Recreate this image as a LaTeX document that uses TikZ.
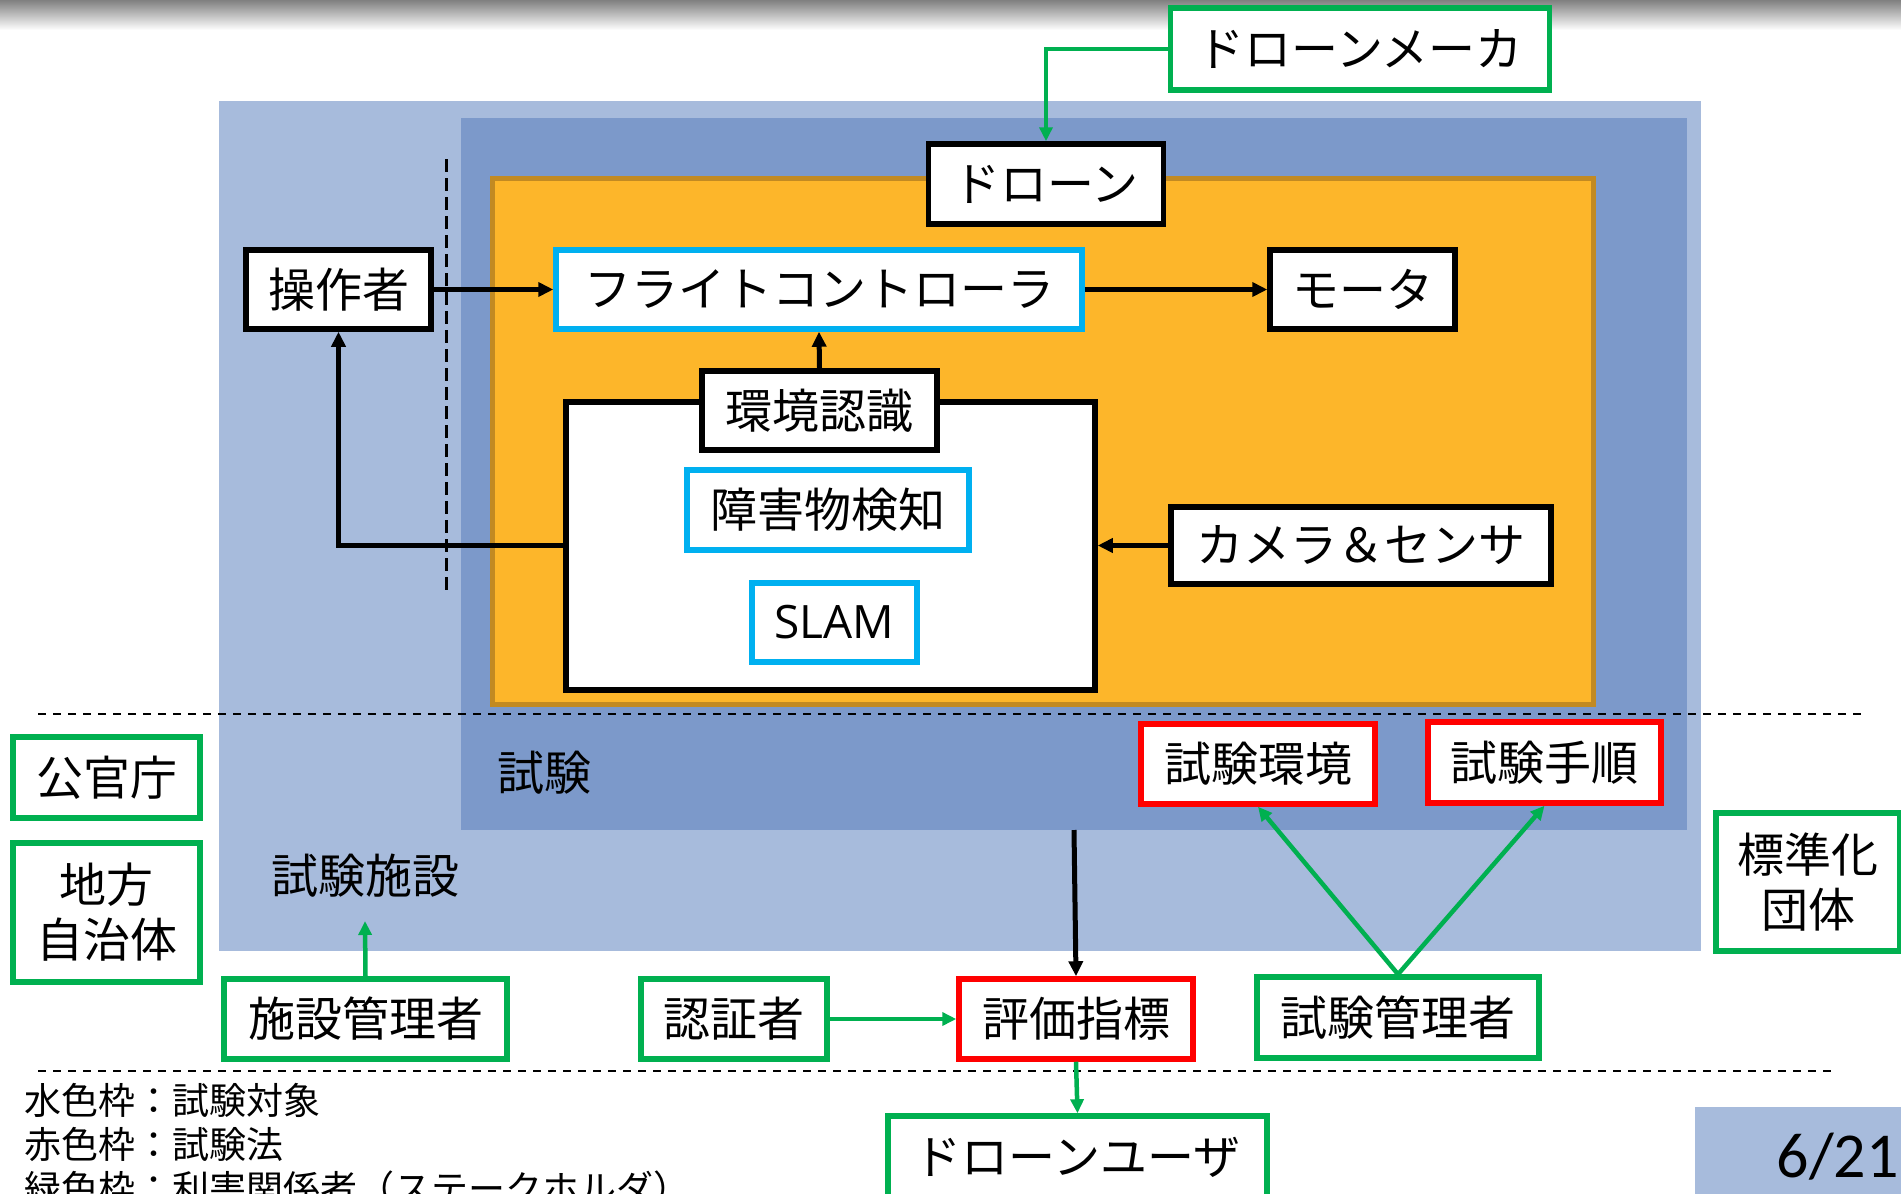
\documentclass[tikz,border=0pt]{standalone}
\usepackage{fontspec}
\setmainfont{Noto Sans CJK JP}
\newfontfamily\latsans{Open Sans}
\newfontfamily\pagefont{Carlito}
\usetikzlibrary{arrows.meta}
\definecolor{facbg}{HTML}{A7BBDC}
\definecolor{testbg}{HTML}{7C99CA}
\definecolor{dronebg}{HTML}{FDB62A}
\definecolor{droneedge}{HTML}{C28A22}
\definecolor{cyanb}{HTML}{00B0F0}
\definecolor{greenb}{HTML}{00B050}
\definecolor{redb}{HTML}{FF0000}
\newcommand\fsz{\fontsize{47}{52}\selectfont}
\newcommand\lsz{\fontsize{37}{44}\selectfont}
\begin{document}
\begin{tikzpicture}[x=1pt,y=-1pt,
  bbox/.style={draw=black, line width=5.5pt, fill=white, inner sep=0pt, font=\fsz, minimum height=80pt},
  cbox/.style={bbox, draw=cyanb},
  gbox/.style={bbox, draw=greenb},
  rbox/.style={bbox, draw=redb},
  region/.style={inner sep=0pt, anchor=north west},
  arr/.style={line width=5pt, -{Triangle[length=15pt,width=14pt]}},
  garr/.style={draw=greenb, line width=4.5pt, -{Triangle[length=14pt,width=13pt]}},
  sep/.style={line width=2pt, dash pattern=on 8pt off 7pt},
  vsep/.style={line width=3pt, dash pattern=on 13pt off 6pt},
  lbl/.style={inner sep=0pt, font=\fsz},
  leg/.style={inner sep=0pt, font=\lsz, anchor=west}
]
\useasboundingbox (0,0) rectangle (1901,1194);
\clip (0,0) rectangle (1901,1194);
\fill[white] (0,0) rectangle (1901,1194);
\shade[top color=black!50, bottom color=white] (0,0) rectangle (1901,30);

% regions
\node[region, fill=facbg, minimum width=1482pt, minimum height=850pt] (facility) at (219,101) {};
\node[region, fill=testbg, minimum width=1226pt, minimum height=712pt] (test) at (461,118) {};
\node[region, fill=dronebg, draw=droneedge, line width=5pt, minimum width=1101pt, minimum height=526pt] (dronearea) at (490,176) {};
\node[region, fill=facbg, minimum width=210pt, minimum height=90pt] (pagebox) at (1695,1107) {};

% separators
\draw[vsep] (446,159) -- (446,594);
\draw[sep] (38,714) -- (1866,714);
\draw[sep] (38,1071) -- (1837,1071);

% labels of regions
\node[lbl] (testlbl) at (544,773) {試験};
\node[lbl] (faclbl) at (365,876) {試験施設};
\node[inner sep=0pt, font=\pagefont\fontsize{64}{70}\selectfont, anchor=base east] (page) at (1899,1177) {6/21};

% drone internals
\node[bbox, minimum width=529pt, minimum height=288pt] (wb) at (830.5,546) {};
\node[bbox, minimum width=235pt] (drone) at (1046,184) {ドローン};
\node[bbox, minimum width=185pt, minimum height=79pt] (op) at (338.5,289.5) {操作者};
\node[cbox, minimum width=526pt, minimum height=79pt] (fc) at (819,289.5) {フライトコントローラ};
\node[bbox, minimum width=185pt, minimum height=79pt] (motor) at (1362.5,289.5) {モータ};
\node[bbox, minimum width=235pt, minimum height=79pt] (env) at (819.5,410.5) {環境認識};
\node[cbox, minimum width=282pt] (obst) at (828,510) {障害物検知};
\node[cbox, minimum width=165pt, minimum height=79pt, font=\latsans\fontsize{46}{50}\selectfont] (slam) at (834.5,622.5) {SLAM};
\node[bbox, minimum width=380pt, minimum height=77pt] (cam) at (1361,545.5) {カメラ＆センサ};

% stakeholders and tests
\node[gbox, minimum width=379pt, minimum height=82pt] (maker) at (1360,49) {ドローンメーカ};
\node[gbox, minimum width=187pt, minimum height=81pt] (gov) at (106.5,777.5) {公官庁};
\node[gbox, minimum width=187pt, minimum height=139pt, align=center] (local) at (106.5,912.5) {地方\\[3pt]自治体};
\node[gbox, minimum width=184pt, minimum height=138pt, align=center] (std) at (1808,882) {標準化\\[3pt]団体};
\node[gbox, minimum width=283pt] (facmgr) at (365.5,1019) {施設管理者};
\node[gbox, minimum width=186pt] (cert) at (734,1019) {認証者};
\node[rbox, minimum width=234pt] (eval) at (1076,1019) {評価指標};
\node[gbox, minimum width=282pt, minimum height=81pt] (testmgr) at (1398,1017.5) {試験管理者};
\node[rbox, minimum width=234pt] (tenv) at (1258,764) {試験環境};
\node[rbox, minimum width=233pt, minimum height=81pt] (tproc) at (1544.5,762.5) {試験手順};
\node[gbox, minimum width=379pt, minimum height=82pt] (user) at (1077.5,1157) {ドローンユーザ};

% legend
\node[leg] (leg1) at (24,1100) {水色枠：試験対象};
\node[leg] (leg2) at (24,1144) {赤色枠：試験法};
\node[leg] (leg3) at (24,1188) {緑色枠：利害関係者（ステークホルダ）};

% coordinates
\coordinate (factip) at (365,921);
\coordinate (testbot) at (1074,830);

% connectors
\draw[garr] (maker.west) -| (drone.north);
\draw[arr] (op.east) -- (fc.west);
\draw[arr] (fc.east) -- (motor.west);
\draw[arr] (env.north) -- (fc.south);
\draw[arr] (cam.west) -- (cam.west -| wb.east);
\draw[arr] (cam.west -| wb.west) -| (op.south);
\draw[garr] (facmgr.north) -- (factip);
\draw[garr] (cert.east) -- (eval.west);
\draw[arr] (testbot) -- (eval.north);
\draw[garr] (eval.south) -- (user.north);
\draw[garr] (testmgr.north) -- (tenv.south);
\draw[garr] (testmgr.north) -- (tproc.south);
\end{tikzpicture}
\end{document}
